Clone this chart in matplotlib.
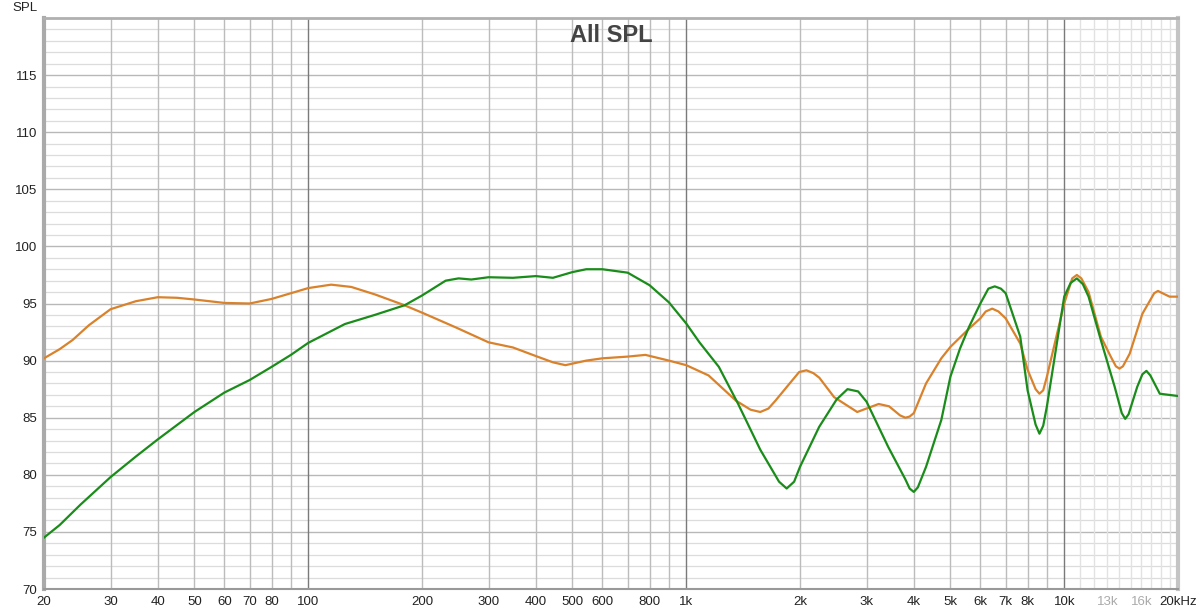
import numpy as np
import matplotlib.pyplot as plt
from matplotlib.ticker import FixedLocator, NullFormatter

plt.rcParams['font.family'] = ['Liberation Sans', 'DejaVu Sans']

# === datos ===
freq_orange = [20, 22, 23.8, 26.3, 30, 35, 40, 45, 50, 60, 70, 80, 90, 100, 115, 130, 150,
               178, 200, 246, 300, 348, 400, 444, 479, 544, 600, 700, 780, 900, 1000, 1146,
               1353, 1480, 1570, 1650, 1723, 1900, 1990, 2080, 2170, 2250, 2462, 2834, 3229,
               3440, 3680, 3800, 3900, 4000, 4310, 4730, 5000, 5600, 6000, 6200, 6450, 6700,
               7000, 7650, 8000, 8400, 8600, 8800, 9000, 10000, 10500, 10800, 11100, 11600,
               12500, 13300, 13700, 14000, 14300, 14900, 16100, 17300, 17700, 18200, 19000,
               20000]
spl_orange = [90.2, 91.0, 91.8, 93.1, 94.5, 95.2, 95.55, 95.5, 95.35, 95.05, 95.0, 95.4, 95.9,
              96.35, 96.65, 96.45, 95.8, 94.9, 94.2, 92.9, 91.6, 91.15, 90.4, 89.85, 89.6,
              90.0, 90.2, 90.35, 90.5, 90.0, 89.6, 88.7, 86.5, 85.7, 85.5, 85.8, 86.5, 88.2,
              89.0, 89.15, 88.9, 88.5, 86.8, 85.5, 86.2, 86.0, 85.2, 85.0, 85.1, 85.4, 88.0,
              90.2, 91.2, 92.8, 93.7, 94.3, 94.55, 94.3, 93.7, 91.5, 89.2, 87.5, 87.1, 87.4,
              88.6, 95.0, 97.2, 97.5, 97.2, 96.0, 92.1, 90.3, 89.5, 89.3, 89.5, 90.6, 94.1,
              95.9, 96.1, 95.9, 95.6, 95.6]

freq_green = [20, 22, 25, 30, 35, 40, 50, 60, 70, 80, 90, 100, 125, 150, 180, 200, 231, 250,
              270, 300, 348, 400, 444, 500, 544, 600, 700, 800, 900, 1000, 1084, 1220, 1370,
              1570, 1760, 1844, 1930, 2000, 2248, 2500, 2671, 2850, 3000, 3422, 3800, 3900,
              4000, 4100, 4310, 4730, 5000, 5300, 5600, 6000, 6300, 6550, 6800, 7000, 7650,
              8000, 8400, 8600, 8800, 9000, 10000, 10400, 10800, 11200, 11600, 12500, 13600,
              14200, 14500, 14800, 15600, 16100, 16500, 16900, 17900, 20000]
spl_green = [74.5, 75.6, 77.4, 79.8, 81.6, 83.1, 85.5, 87.2, 88.3, 89.45, 90.5, 91.55, 93.2,
             94.0, 94.85, 95.7, 97.0, 97.2, 97.1, 97.3, 97.25, 97.4, 97.25, 97.75, 98.0, 98.0,
             97.7, 96.6, 95.1, 93.25, 91.6, 89.45, 86.25, 82.2, 79.4, 78.8, 79.4, 80.7, 84.2,
             86.6, 87.5, 87.3, 86.4, 82.45, 79.6, 78.8, 78.5, 78.9, 80.7, 84.8, 88.6, 91.05,
             92.95, 95.0, 96.3, 96.5, 96.3, 95.9, 92.1, 87.4, 84.4, 83.6, 84.3, 86.0, 95.6,
             96.8, 97.2, 96.7, 95.6, 91.8, 87.7, 85.4, 84.9, 85.3, 87.7, 88.8, 89.1, 88.7,
             87.1, 86.9]

x_labels = ['20', '30', '40', '50', '60', '70', '80', '100', '200', '300', '400', '500',
            '600', '800', '1k', '2k', '3k', '4k', '5k', '6k', '7k', '8k', '10k', '13k',
            '16k', '20kHz']
x_label_pos = [20, 30, 40, 50, 60, 70, 80, 100, 200, 300, 400, 500, 600, 800, 1000, 2000,
               3000, 4000, 5000, 6000, 7000, 8000, 10000, 13000, 16000, 20000]
y_ticks = [70, 75, 80, 85, 90, 95, 100, 105, 110, 115]

# === figura ===
fig = plt.figure(figsize=(12, 6.12), dpi=100)
ax = fig.add_axes([44 / 1200, 1 - 589 / 612, (1178 - 44) / 1200, (589 - 18) / 612])
ax.set_xscale('log')
ax.set_xlim(20, 20000)
ax.set_ylim(70, 120)

# rejilla
for v in range(71, 120):
    if v % 5:
        ax.axhline(v, color='#dcdcdc', lw=0.9, zorder=0)
    else:
        ax.axhline(v, color='#b8b8b8', lw=1.0, zorder=0)
for dec in [10, 100, 1000, 10000]:
    for m in range(1, 10):
        f = dec * m
        if f < 20 or f > 20000:
            continue
        if m == 1:
            ax.axvline(f, color='#7a7a7a', lw=1.0, zorder=0)
        else:
            ax.axvline(f, color='#bcbcbc', lw=1.0, zorder=0)
for f in range(11000, 20000, 1000):
    ax.axvline(f, color='#e2e2e2', lw=1.0, zorder=0)

ax.plot(freq_orange, spl_orange, color='#d9822b', lw=1.6, zorder=3)
ax.plot(freq_green, spl_green, color='#1a8c1a', lw=1.6, zorder=4)

# ejes y etiquetas
ax.xaxis.set_major_locator(FixedLocator([]))
ax.xaxis.set_minor_locator(FixedLocator([]))
ax.xaxis.set_minor_formatter(NullFormatter())
ax.set_yticks(y_ticks)
ax.tick_params(axis='y', length=0, pad=5, labelsize=9.5, labelcolor='#222222')
for f, lab in zip(x_label_pos, x_labels):
    col = '#aaaaaa' if lab in ('13k', '16k') else '#222222'
    ax.text(f, -0.012, lab, transform=ax.get_xaxis_transform(), ha='center', va='top',
            fontsize=9.5, color=col)

fig.text(38 / 1200, 1 - 8 / 612, 'SPL', ha='right', va='center', fontsize=9.5, color='#222222')
ax.text(0.5, 0.97, 'All SPL', transform=ax.transAxes, ha='center', va='center',
        fontsize=17, fontweight='bold', color='#444444')

ax.spines['left'].set_color('#aaaaaa')
ax.spines['left'].set_linewidth(3)
ax.spines['top'].set_color('#b0b0b0')
ax.spines['top'].set_linewidth(2)
ax.spines['right'].set_color('#c4c4c4')
ax.spines['right'].set_linewidth(3)
ax.spines['bottom'].set_color('#999999')
ax.spines['bottom'].set_linewidth(1.5)

plt.savefig('out.png', dpi=100)
